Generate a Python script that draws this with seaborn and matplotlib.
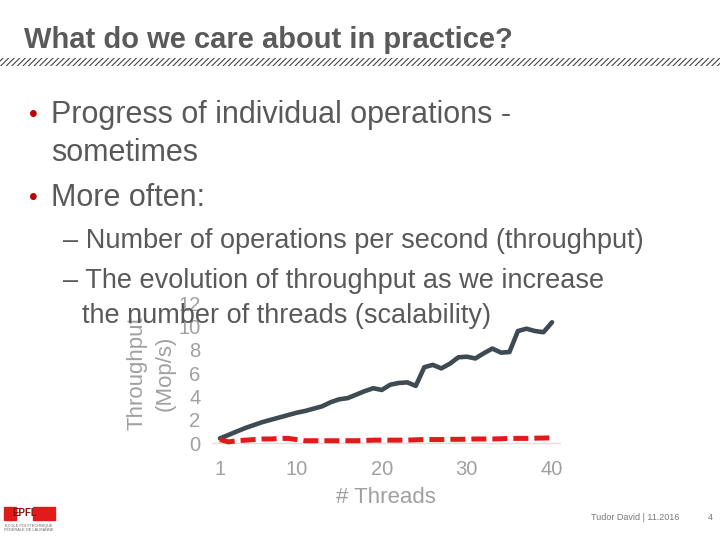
import numpy as np
import pandas as pd
import matplotlib
matplotlib.use('Agg')
import matplotlib.pyplot as plt
from matplotlib.patches import Rectangle
import seaborn as sns

threads = list(range(1, 41))
lockfree = [0.4, 0.7, 1.0, 1.3, 1.55, 1.8, 2.0, 2.2, 2.4, 2.6,
            2.75, 2.95, 3.15, 3.5, 3.75, 3.85, 4.15, 4.45, 4.7, 4.55,
            5.0, 5.15, 5.2, 4.9, 6.5, 6.7, 6.4, 6.8, 7.35, 7.4,
            7.25, 7.7, 8.1, 7.75, 7.8, 9.6, 9.8, 9.6, 9.5, 10.35]
waitfree = [0.3, 0.1, 0.2, 0.25, 0.3, 0.35, 0.35, 0.4, 0.4, 0.3,
            0.2, 0.2, 0.2, 0.2, 0.2, 0.2, 0.2, 0.22, 0.25, 0.25,
            0.25, 0.25, 0.25, 0.28, 0.3, 0.3, 0.3, 0.32, 0.32, 0.33,
            0.35, 0.35, 0.35, 0.37, 0.4, 0.4, 0.4, 0.42, 0.43, 0.45]
xticks = [1, 10, 20, 30, 40]
yticks = [0, 2, 4, 6, 8, 10, 12]

df = pd.DataFrame({'threads': threads, 'fast': lockfree, 'slow': waitfree})

sns.set_style('white')
plt.rcParams['font.family'] = ['Liberation Sans', 'DejaVu Sans']
plt.rcParams['hatch.linewidth'] = 0.8

fig = plt.figure(figsize=(7.2, 5.4), dpi=100)

# slide title + hatched band
fig.text(24/720, 1-40/540, "What do we care about in practice?", fontsize=21,
         fontweight='bold', color='#5a5a5a', va='center', ha='left')
fig.patches.append(Rectangle((0, 1-66/540), 1, 8/540, transform=fig.transFigure,
                             fill=False, hatch='//////', edgecolor='#444444', lw=0))

# bullets
txt = '#595959'
red = '#c00000'
for y in [115, 198]:
    fig.text(33/720, 1-y/540, "•", fontsize=18, color=red, va='center', ha='center')
fig.text(51/720, 1-115/540, "Progress of individual operations -", fontsize=22, color=txt, va='center')
fig.text(51/720, 1-153/540, "sometimes", fontsize=22, color=txt, va='center')
fig.text(51/720, 1-198/540, "More often:", fontsize=22, color=txt, va='center')
fig.text(63/720, 1-241/540, "– Number of operations per second (throughput)", fontsize=19.5, color=txt, va='center')
fig.text(63/720, 1-281/540, "– The evolution of throughput as we increase", fontsize=19.5, color=txt, va='center')
fig.text(82/720, 1-316/540, "the number of threads (scalability)", fontsize=19.5, color=txt, va='center')

# chart
ax = fig.add_axes([211.5/720, (540-448.9)/540, 349/720, 151.7/540])
ax.patch.set_alpha(0)
ax.axhline(0, color='#eadada', lw=1, zorder=0)
sns.lineplot(data=df, x='threads', y='fast', ax=ax, color='#3f4b52', lw=3.3)
sns.lineplot(data=df, x='threads', y='slow', ax=ax, color='#e31a1a', lw=3.6,
             linestyle=(0, (3.0, 1.2)))
ax.set_xlim(0, 41)
ax.set_ylim(-0.5, 12.5)
ax.set_xticks(xticks)
ax.set_yticks(yticks)
ax.tick_params(labelsize=14.5, colors='#a0a0a0', length=0, pad=8)
for s in ax.spines.values():
    s.set_visible(False)
ax.set_xlabel("# Threads", fontsize=16, color='#a0a0a0', labelpad=6)
ax.set_ylabel("Throughput\n(Mop/s)", fontsize=16, color='#a0a0a0', labelpad=2,
              linespacing=1.45)

# footer
fig.patches.append(Rectangle((4/720, 1-520/540), 12/720, 13/540, transform=fig.transFigure,
                             color='#e31a1a'))
fig.patches.append(Rectangle((33/720, 1-520/540), 22/720, 13/540, transform=fig.transFigure,
                             color='#e31a1a'))
fig.text(24.5/720, 1-513.5/540, "EPFL", fontsize=7, color='#8a1010', ha='center', va='center',
         fontweight='bold')
fig.text(29/720, 1-528/540, "ECOLE POLYTECHNIQUE\nFÉDÉRALE DE LAUSANNE", fontsize=2.8,
         color='#666666', ha='center', va='center')
fig.text(635/720, 1-517/540, "Tudor David | 11.2016", fontsize=6.5, color='#777777',
         ha='center', va='center')
fig.text(710/720, 1-517/540, "4", fontsize=6.5, color='#777777', ha='center', va='center')

fig.savefig('out.png', dpi=100)
